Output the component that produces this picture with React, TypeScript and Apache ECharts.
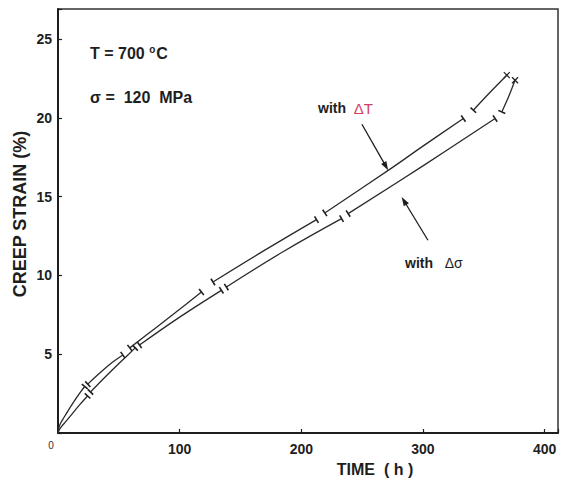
import React, { useEffect, useRef } from "react";
import * as echarts from "echarts";

// Time (h) vs creep strain (%) — segments separated by interruptions
const deltaTSegments: number[][][] = [
  [[0, 0], [0.6, 0.3], [2, 0.6], [5, 1.0], [9, 1.5], [14, 2.1], [18, 2.55], [22, 2.95]],
  [[24.5, 3.1], [35, 3.85], [45, 4.5], [53.3, 4.95]],
  [[59, 5.4], [80, 6.65], [100, 7.85], [117.9, 8.95]],
  [[127.4, 9.58], [170, 11.6], [212.5, 13.54]],
  [[219.3, 13.96], [271.4, 16.66], [300, 18.2], [333.2, 19.95]],
  [[341.4, 20.48], [355, 21.6], [368.9, 22.7]],
];

const deltaSigmaSegments: number[][][] = [
  [[0, 0], [1, 0.2], [3, 0.42], [6.7, 0.75], [12, 1.25], [17.7, 1.78], [24.3, 2.35]],
  [[26.7, 2.6], [40, 3.65], [52, 4.55], [63.5, 5.4]],
  [[67, 5.58], [100, 7.35], [134.3, 9.05]],
  [[138.4, 9.26], [185, 11.5], [233.1, 13.6]],
  [[238.5, 13.92], [300, 16.95], [359.3, 19.95]],
  [[364.8, 20.37], [370.2, 21.3], [375.7, 22.38]],
];

// annotation arrows: [fromTime, fromStrain, toTime, toStrain]
const arrowDeltaT = [249.8, 19.59, 271.4, 16.67];
const arrowDeltaSigma = [304.1, 12.23, 282.5, 14.97];

const xTicks = [0, 100, 200, 300, 400];
const yTicks = [0, 5, 10, 15, 20, 25];

const INK = "#1e1e1e";
const FONT = "'Liberation Sans', Arial, sans-serif";

function breakTicks(segs: number[][][]) {
  const out: number[][] = [];
  segs.forEach((s, i) => {
    if (i > 0) out.push([s[0][0], s[0][1], s[1][0], s[1][1]]);
    if (i < segs.length - 1) {
      const a = s[s.length - 1];
      const b = s[s.length - 2];
      out.push([a[0], a[1], b[0], b[1]]);
    }
  });
  return out;
}

function endPoint(segs: number[][][]) {
  const s = segs[segs.length - 1];
  return s[s.length - 1];
}

export default function App() {
  const ref = useRef<HTMLDivElement>(null);
  useEffect(() => {
    if (!ref.current) return;
    const chart = echarts.init(ref.current, undefined, { renderer: "svg" });

    const lineSeries: any[] = [];
    [deltaTSegments, deltaSigmaSegments].forEach((segs) =>
      segs.forEach((seg) =>
        lineSeries.push({
          type: "line",
          data: seg,
          showSymbol: false,
          smooth: 0.4,
          silent: true,
          lineStyle: { color: "#2a2a2a", width: 1.3 },
        })
      )
    );

    const tickData = [...breakTicks(deltaTSegments), ...breakTicks(deltaSigmaSegments)];
    const crossData = [endPoint(deltaTSegments), endPoint(deltaSigmaSegments)];

    const option: any = {
      animation: false,
      backgroundColor: "#ffffff",
      grid: {
        left: 58,
        right: 3,
        top: 9,
        bottom: 56,
        show: true,
        borderColor: "#333",
        borderWidth: 1.5,
      },
      xAxis: {
        type: "value",
        min: 0,
        max: 411,
        interval: 100,
        axisLine: { show: true, lineStyle: { color: INK, width: 2 } },
        axisTick: { show: true, inside: true, length: 4, lineStyle: { color: INK, width: 1.2 } },
        splitLine: { show: false },
        axisLabel: {
          margin: 9,
          color: INK,
          fontFamily: FONT,
          fontWeight: "bold",
          fontSize: 14,
          formatter: (v: number) => (xTicks.includes(v) && v !== 0 ? String(v) : ""),
        },
      },
      yAxis: {
        type: "value",
        min: 0,
        max: 26.9,
        interval: 5,
        axisLine: { show: true, lineStyle: { color: INK, width: 2 } },
        axisTick: { show: true, inside: true, length: 4, lineStyle: { color: INK, width: 1.2 } },
        splitLine: { show: false },
        axisLabel: {
          margin: 6,
          color: INK,
          fontFamily: FONT,
          fontWeight: "bold",
          fontSize: 14,
          formatter: (v: number) => (yTicks.includes(v) && v !== 0 ? String(v) : ""),
        },
      },
      series: [
        ...lineSeries,
        {
          type: "custom",
          silent: true,
          dimensions: ["x", "y", "nx", "ny"],
          encode: { x: 0, y: 1 },
          data: tickData,
          renderItem: (params: any, api: any) => {
            const p = api.coord([api.value(0), api.value(1)]);
            const q = api.coord([api.value(2), api.value(3)]);
            const dx = q[0] - p[0];
            const dy = q[1] - p[1];
            const L = Math.hypot(dx, dy) || 1;
            const nx = -dy / L;
            const ny = dx / L;
            const h = 3.8;
            return {
              type: "line",
              shape: { x1: p[0] - nx * h, y1: p[1] - ny * h, x2: p[0] + nx * h, y2: p[1] + ny * h },
              style: { stroke: "#1e1e1e", lineWidth: 1.6 },
            };
          },
        },
        {
          type: "custom",
          silent: true,
          dimensions: ["x", "y"],
          encode: { x: 0, y: 1 },
          data: crossData,
          renderItem: (params: any, api: any) => {
            const p = api.coord([api.value(0), api.value(1)]);
            const h = 3;
            return {
              type: "group",
              children: [
                { type: "line", shape: { x1: p[0] - h, y1: p[1] - h, x2: p[0] + h, y2: p[1] + h }, style: { stroke: "#1e1e1e", lineWidth: 1.2 } },
                { type: "line", shape: { x1: p[0] - h, y1: p[1] + h, x2: p[0] + h, y2: p[1] - h }, style: { stroke: "#1e1e1e", lineWidth: 1.2 } },
              ],
            };
          },
        },
        {
          type: "custom",
          silent: true,
          dimensions: ["x1", "y1", "x2", "y2"],
          encode: { x: [0, 2], y: [1, 3] },
          data: [arrowDeltaT, arrowDeltaSigma],
          renderItem: (params: any, api: any) => {
            const p = api.coord([api.value(0), api.value(1)]);
            const q = api.coord([api.value(2), api.value(3)]);
            const dx = q[0] - p[0];
            const dy = q[1] - p[1];
            const L = Math.hypot(dx, dy) || 1;
            const ux = dx / L;
            const uy = dy / L;
            const hl = 9;
            const hw = 3;
            const bx = q[0] - ux * hl;
            const by = q[1] - uy * hl;
            return {
              type: "group",
              children: [
                { type: "line", shape: { x1: p[0], y1: p[1], x2: bx + ux * 2, y2: by + uy * 2 }, style: { stroke: "#1e1e1e", lineWidth: 1.3 } },
                {
                  type: "polygon",
                  shape: { points: [[q[0], q[1]], [bx - uy * hw, by + ux * hw], [bx + uy * hw, by - ux * hw]] },
                  style: { fill: "#1e1e1e" },
                },
              ],
            };
          },
        },
      ],
      graphic: [
        {
          type: "text",
          x: 20,
          y: 214,
          rotation: Math.PI / 2,
          style: {
            text: "CREEP STRAIN (%)",
            fontFamily: FONT,
            fontWeight: "bold",
            fontSize: 18,
            fill: INK,
            align: "center",
            verticalAlign: "middle",
          },
        },
        {
          type: "text",
          x: 375,
          y: 469,
          style: {
            text: "TIME  ( h )",
            fontFamily: FONT,
            fontWeight: "bold",
            fontSize: 16,
            fill: INK,
            align: "center",
            verticalAlign: "middle",
          },
        },
        {
          type: "text",
          x: 51,
          y: 445,
          style: { text: "0", fontFamily: FONT, fontSize: 10, fill: "#333", align: "center", verticalAlign: "middle" },
        },
        {
          type: "text",
          x: 90,
          y: 53,
          style: {
            text: "{a|T = 700 }{s|o}{a|C}",
            verticalAlign: "middle",
            rich: {
              a: { fontFamily: FONT, fontWeight: "bold", fontSize: 16, fill: INK },
              s: { fontFamily: FONT, fontWeight: "bold", fontSize: 10, fill: INK, padding: [0, 1, 8, 0] },
            },
          },
        },
        {
          type: "text",
          x: 90,
          y: 97,
          style: {
            text: "σ =  120  MPa",
            fontFamily: FONT,
            fontWeight: "bold",
            fontSize: 16,
            fill: INK,
            verticalAlign: "middle",
          },
        },
        {
          type: "text",
          x: 318,
          y: 108,
          style: {
            text: "{a|with  }{b|ΔT}",
            verticalAlign: "middle",
            rich: {
              a: { fontFamily: FONT, fontWeight: "bold", fontSize: 14, fill: INK },
              b: { fontFamily: FONT, fontSize: 15, fill: "#cf3f63" },
            },
          },
        },
        {
          type: "text",
          x: 405,
          y: 263,
          style: {
            text: "{a|with   }{b|Δσ}",
            verticalAlign: "middle",
            rich: {
              a: { fontFamily: FONT, fontWeight: "bold", fontSize: 14, fill: INK },
              b: { fontFamily: FONT, fontSize: 14, fill: INK },
            },
          },
        },
      ],
    };

    chart.setOption(option);
    return () => chart.dispose();
  }, []);

  return (
    <div
      ref={ref}
      style={{ position: "absolute", left: 0, top: 0, width: 561, height: 489, background: "#fff" }}
    />
  );
}
